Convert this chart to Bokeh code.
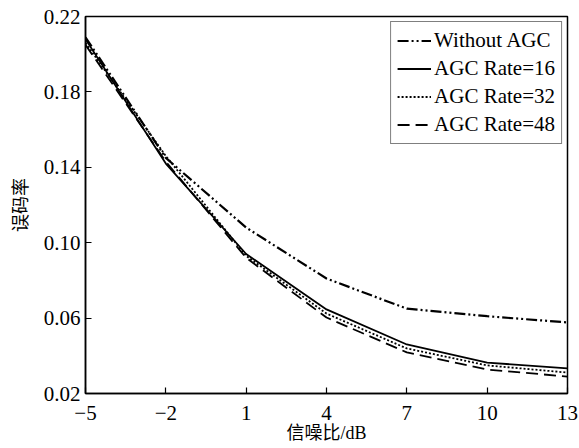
from bokeh.plotting import figure
from bokeh.models import FixedTicker, Legend, LegendItem, Range1d
from bokeh.embed import file_html
from bokeh.resources import INLINE

snr = [-5, -2, 1, 4, 7, 10, 13]
without_agc = [0.209, 0.145, 0.108, 0.081, 0.065, 0.061, 0.0577]
agc_16 = [0.208, 0.142, 0.094, 0.0646, 0.046, 0.0364, 0.0333]
agc_32 = [0.206, 0.146, 0.093, 0.0624, 0.0439, 0.0349, 0.0311]
agc_48 = [0.205, 0.143, 0.092, 0.0603, 0.0418, 0.0327, 0.0290]

x_ticks = [-5, -2, 1, 4, 7, 10, 13]
x_tick_labels = ["\u22125", "\u22122", "1", "4", "7", "10", "13"]
y_ticks = [0.02, 0.06, 0.10, 0.14, 0.18, 0.22]
y_tick_labels = ["0.02", "0.06", "0.10", "0.14", "0.18", "0.22"]

series_names = ["Without AGC", "AGC Rate=16", "AGC Rate=32", "AGC Rate=48"]

SERIF = "'Liberation Serif'"
MIXED = "'Liberation Serif', 'Noto Sans CJK SC'"

p = figure(
    output_backend="svg", toolbar_location=None,
    frame_width=482, frame_height=377,
    min_border_left=85, min_border_right=12, min_border_top=16, min_border_bottom=55,
    x_range=Range1d(-5, 13), y_range=Range1d(0.02, 0.22),
)
p.background_fill_color = "white"
p.border_fill_color = "white"
p.grid.visible = False
p.outline_line_color = "black"
p.outline_line_width = 1.5
p.outline_line_alpha = 1.0

for ax in (p.xaxis[0], p.yaxis[0]):
    ax.axis_line_color = "black"
    ax.axis_line_width = 1.5
    ax.major_tick_in = 6
    ax.major_tick_out = 0
    ax.minor_tick_line_color = None
    ax.major_tick_line_color = "black"
    ax.major_tick_line_width = 1.2
    ax.major_label_text_font = SERIF
    ax.major_label_text_font_size = "21px"
    ax.major_label_text_color = "black"
    ax.axis_label_text_font_style = "normal"
    ax.axis_label_text_color = "black"

p.xaxis.ticker = FixedTicker(ticks=x_ticks)
p.yaxis.ticker = FixedTicker(ticks=y_ticks)
p.xaxis.major_label_overrides = {t: l for t, l in zip(x_ticks, x_tick_labels)}
p.yaxis.major_label_overrides = {t: l for t, l in zip(y_ticks, y_tick_labels)}
p.xaxis.major_label_standoff = 12
p.yaxis.major_label_standoff = 5

p.xaxis.axis_label = "信噪比/dB"
p.xaxis.axis_label_text_font = MIXED
p.xaxis.axis_label_text_font_size = "18px"
p.xaxis.axis_label_standoff = 0
p.yaxis.axis_label = "误码率"
p.yaxis.axis_label_text_font = "'Noto Sans CJK SC'"
p.yaxis.axis_label_text_font_size = "18px"
p.yaxis.axis_label_standoff = 9

styles = [
    dict(line_dash="11 3 2 3 2 3", line_width=2.2),
    dict(line_dash="solid", line_width=1.8),
    dict(line_dash="2 2", line_width=1.8),
    dict(line_dash="12 6", line_width=1.8),
]
data = [without_agc, agc_16, agc_32, agc_48]

items = []
for name, ys, st in zip(series_names, data, styles):
    r = p.line(snr, ys, line_color="black", **st)
    items.append(LegendItem(label=name, renderers=[r]))

legend = Legend(items=items, location="top_right")
legend.label_text_font = SERIF
legend.label_text_font_size = "21px"
legend.label_text_color = "black"
legend.glyph_width = 34
legend.glyph_height = 21
legend.label_height = 21
legend.label_standoff = 3
legend.spacing = 3
legend.padding = 6
legend.margin = 5
legend.border_line_color = "black"
legend.border_line_width = 1.5
legend.background_fill_color = "white"
legend.background_fill_alpha = 1.0
p.add_layout(legend, "center")

open("out.html", "w").write(file_html(p, INLINE))
